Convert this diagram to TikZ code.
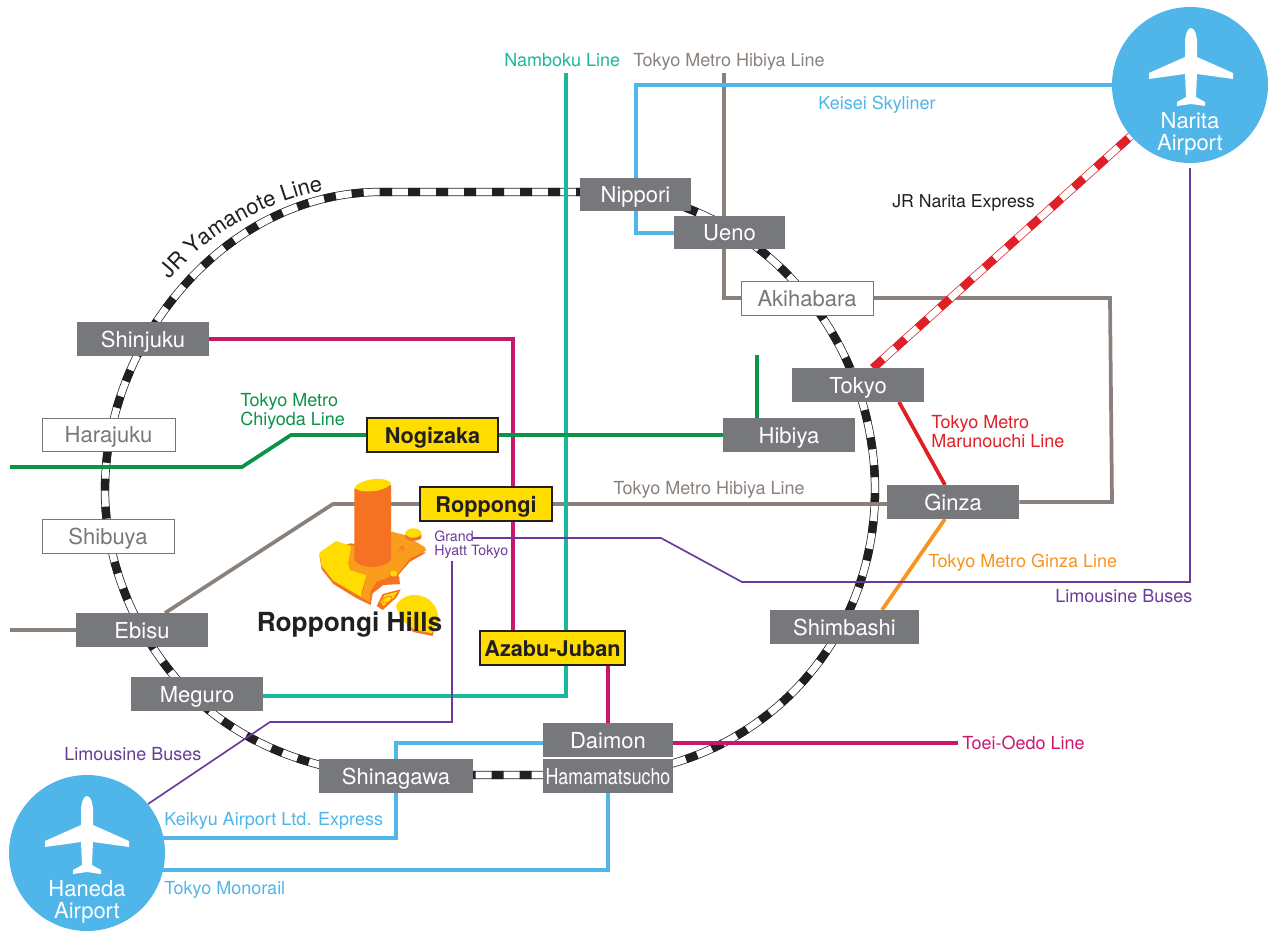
\documentclass[tikz,border=0pt]{standalone}
\usepackage{fontspec}
\setmainfont{TeX Gyre Heros}
\usetikzlibrary{decorations.text}
\pgfdeclarelayer{bg}
\pgfsetlayers{bg,main}
\definecolor{gbox}{HTML}{77787B}
\definecolor{gline}{HTML}{8B817C}
\definecolor{teal}{HTML}{1AB89A}
\definecolor{crim}{HTML}{C9186C}
\definecolor{grn}{HTML}{0A9448}
\definecolor{sky}{HTML}{50B5E8}
\definecolor{purp}{HTML}{6A3A9A}
\definecolor{yel}{HTML}{FFDD00}
\definecolor{redl}{HTML}{E01F26}
\definecolor{orgl}{HTML}{F7941D}
\definecolor{orgd}{HTML}{F47221}
\definecolor{orgm}{HTML}{F99D1C}
\definecolor{ink}{HTML}{231F20}
\newcommand{\fsize}[1]{\fontsize{\dimexpr #1pt*3/4\relax}{\dimexpr #1pt*3/4\relax}\selectfont}
\newcommand{\fskip}[2]{\fontsize{\dimexpr #1pt*3/4\relax}{\dimexpr #2pt*3/4\relax}\selectfont}
\newcommand{\yamfont}{\fsize{22}\color{ink}}
\tikzset{
  stationbox/.style n args={2}{rectangle,inner sep=0pt,minimum width=#1*.75pt,minimum height=#2*.75pt,font=\fsize{22},text height=15pt,text depth=3pt},
  grayst/.style={fill=gbox,text=white},
  whitest/.style={fill=white,draw=gbox,line width=.75pt,text=gbox},
  yellowst/.style={fill=yel,draw=ink,line width=.9pt,text=ink,font=\bfseries\fsize{21.7}},
  metro/.style={line width=2.8pt,line join=miter},
  thinbus/.style={purp,line width=1.25pt},
  lbl/.style={anchor=west,inner sep=0pt,font=\fsize{18},text height=12pt,text depth=3pt},
  lblm/.style={anchor=west,inner sep=0pt,font=\fskip{18}{19},align=left},
  apt/.style={circle,fill=sky,inner sep=0pt,minimum size=117pt},
  apttext/.style={text=white,inner sep=0pt,align=center,font=\fskip{22}{22}},
  plane/.style={fill=white,draw=none},
}
\newcommand{\planeat}[1]{%
  \fill[plane,shift={#1}] (0,0) .. controls (4,0) and (6,8) .. (6,14) -- (6,29)
    -- (42,45) -- (42,51) -- (6,46) -- (5,69) -- (14,74) -- (14,78) -- (0,76)
    -- (-14,78) -- (-14,74) -- (-5,69) -- (-6,46) -- (-42,51) -- (-42,45) -- (-6,29)
    -- (-6,14) .. controls (-6,8) and (-4,0) .. (0,0) -- cycle;}
\newcommand{\stn}[7]{\node[stationbox={#5}{#6},#7] (#1) at (#2,#3) {#4};}
\begin{document}
\begin{tikzpicture}[x=.75pt,y=-.75pt]
\useasboundingbox (0,0) rectangle (1268,931);
% named free ends and bend points
\coordinate (nambokuTop) at (566,73);
\coordinate (nambokuBend) at (566,696);
\coordinate (hibiyaTop) at (724,73);
\coordinate (hibiyaBend) at (724,298);
\coordinate (hibiyaStub) at (757,355);
\coordinate (chiyodaW) at (10,467);
\coordinate (chiyodaA) at (242,467);
\coordinate (chiyodaB) at (291,435);
\coordinate (ebisuW) at (10,630);
\coordinate (ebisuTop) at (165,613);
\coordinate (hibiyaA) at (333,504);
\coordinate (hibiyaNE) at (1110,298);
\coordinate (hibiyaSE) at (1112,502);
\coordinate (keiseiA) at (636,85);
\coordinate (keiseiB) at (636,233);
\coordinate (oedoE) at (958,743);
\coordinate (shinjukuX) at (513,339);
\coordinate (azabuX) at (513,631);
\coordinate (daimonL) at (396,743);
\coordinate (keikyuB) at (396,838);
\coordinate (keikyuW) at (160,838);
\coordinate (monoW) at (160,870);
\coordinate (monoB) at (608,870);
\coordinate (limoN) at (1190,168);
\coordinate (limoA) at (1190,582);
\coordinate (limoB) at (742,582);
\coordinate (limoC) at (661,538);
\coordinate (hyattE) at (472,538);
\coordinate (hyattS) at (452,561);
\coordinate (limoD) at (452,722);
\coordinate (limoE) at (270,722);
\coordinate (limoH) at (148,804);
\coordinate (marA) at (899,402);
\coordinate (marB) at (945,485);
\coordinate (ginA) at (945,519);
\coordinate (ginB) at (882,610);
\coordinate (nexA) at (873,368);
\coordinate (nexB) at (1132,135);
% stations
\stn{nippori}{635.5}{194.5}{Nippori}{111}{33}{grayst}
\stn{ueno}{729.5}{232.5}{Ueno}{111}{33}{grayst}
\stn{akihabara}{807}{298}{Akihabara}{132}{34}{whitest}
\stn{tokyo}{858}{385}{Tokyo}{132}{34}{grayst}
\stn{hibiya}{789}{435}{Hibiya}{132}{34}{grayst}
\stn{ginza}{953}{502}{Ginza}{132}{34}{grayst}
\stn{shimbashi}{844.5}{627}{Shimbashi}{149}{34}{grayst}
\stn{daimon}{608}{740}{Daimon}{130}{34}{grayst}
\stn{hamamatsucho}{608}{776}{\addfontfeature{FakeStretch=.81}Hamamatsucho}{130}{34}{grayst}
\stn{shinagawa}{396}{776}{Shinagawa}{154}{34}{grayst}
\stn{azabu}{552.5}{648}{Azabu-Juban}{145}{34}{yellowst}
\stn{roppongi}{486}{504}{Roppongi}{132}{34}{yellowst}
\stn{nogizaka}{432.5}{435}{Nogizaka}{131}{34}{yellowst}
\stn{shinjuku}{143}{339}{Shinjuku}{132}{34}{grayst}
\stn{harajuku}{108.5}{434.5}{Harajuku}{133}{33}{whitest}
\stn{shibuya}{108}{536}{Shibuya}{132}{34}{whitest}
\stn{ebisu}{142}{630}{Ebisu}{132}{34}{grayst}
\stn{meguro}{197}{694}{Meguro}{132}{34}{grayst}
% background: ring and lines
\begin{pgfonlayer}{bg}
\def\ringpath{(380,192) -- (600,192) .. controls (745,192) and (875,325) .. (875,490)
  .. controls (875,650) and (750,775) .. (590,775) -- (400,775)
  .. controls (325,775) and (255,749) .. (205,707)
  .. controls (160,670) and (105,590) .. (105,490)
  .. controls (105,338) and (228,192) .. (380,192) -- cycle}
\draw[ink,line width=6.2pt] \ringpath;
\draw[white,line width=5.1pt] \ringpath;
\draw[ink,line width=6.2pt,dash pattern=on 9pt off 12pt] \ringpath;
\draw[metro,gline] (hibiyaTop) -- (hibiyaBend) -- (akihabara.west);
\draw[metro,gline] (akihabara.east) -- (hibiyaNE) -- (hibiyaSE) -- (ginza.east);
\draw[metro,gline] (ginza.west |- roppongi.east) -- (roppongi.east);
\draw[metro,gline] (roppongi.west) -- (hibiyaA) -- (ebisuTop);
\draw[metro,gline] (ebisu.west) -- (ebisuW);
\draw[metro,crim] (shinjuku.east) -- (shinjukuX) -- (azabuX);
\draw[metro,crim] (azabu.south -| daimon.north) -- (daimon.north);
\draw[metro,crim] (daimon.east |- oedoE) -- (oedoE);
\draw[metro,teal] (nambokuTop) -- (nambokuBend) -- (meguro.east |- nambokuBend);
\draw[metro,grn] (chiyodaW) -- (chiyodaA) -- (chiyodaB) -- (nogizaka.west);
\draw[metro,grn] (nogizaka.east) -- (hibiya.west);
\draw[metro,grn] (hibiya.north -| hibiyaStub) -- (hibiyaStub);
\draw[metro,redl] (marA) -- (marB);
\draw[metro,orgl] (ginA) -- (ginB);
\draw[metro,sky] (1180,85) -- (keiseiA) -- (keiseiB) -- (ueno.west |- keiseiB);
\draw[metro,sky] (keikyuW) -- (keikyuB) -- (daimonL) -- (daimon.west |- daimonL);
\draw[metro,sky] (monoW) -- (monoB) -- (hamamatsucho.south -| monoB);
\draw[thinbus] (limoN) -- (limoA) -- (limoB) -- (limoC) -- (hyattE);
\draw[thinbus] (hyattS) -- (limoD) -- (limoE) -- (limoH);
\draw[redl,line width=6.2pt] (nexA) -- (nexB);
\draw[white,line width=5.1pt] (nexA) -- (nexB);
\draw[redl,line width=6.2pt,dash pattern=on 10pt off 12.5pt] (nexA) -- (nexB);
\end{pgfonlayer}
% airports
\node[apt] (narita) at (1190,85) {};
\node[apt] (haneda) at (87,853) {};
\planeat{(1191,28)}
\planeat{(87,796)}
\node[apttext] (naritaT) at (1190,134) {Narita\\Airport};
\node[apttext] (hanedaT) at (87,901.5) {Haneda\\Airport};
% Roppongi Hills
\begin{scope}[shift={(250,460)},x=.25pt,y=-.25pt]
  \fill[orgd] (208,285) -- (215,328) -- (250,372) -- (320,415) -- (362,435) -- (368,400) -- (400,375) -- (450,372) -- (445,345) -- (480,305) -- (528,278) -- (300,250) -- cycle;
  \fill[yel] (208,278) -- (258,243) -- (305,258) -- (295,310) -- (300,330) -- (350,345) -- (335,395) -- (335,412) -- (250,362) -- (215,318) -- cycle;
  \fill[orgm] (305,258) -- (425,215) -- (465,225) -- (490,240) -- (525,262) -- (528,272) -- (480,295) -- (445,340) -- (420,350) -- (380,365) -- (362,392) -- (360,428) -- (335,412) -- (350,345) -- (300,330) -- (295,310) -- cycle;
  \fill[orgd] (313,85) -- (423,75) -- (423,300) .. controls (410,325) and (330,330) .. (313,300) -- cycle;
  \fill[yel] (313,85) .. controls (320,60) and (400,45) .. (423,68) .. controls (420,90) and (345,105) .. (313,85) -- cycle;
  \fill[orgd] (466,222) -- (514,222) -- (514,235) .. controls (505,245) and (475,245) .. (466,235) -- cycle;
  \fill[yel] (490,219) ellipse [x radius=24,y radius=14];
  \fill[orgd] (418,342) -- (448,350) -- (448,372) -- (420,372) -- cycle;
  \fill[yel] (431,341) ellipse [x radius=11,y radius=9];
  \fill[orgd] (380,438) -- (398,402) -- (452,388) -- (440,412) -- (398,450) -- cycle;
  \fill[yel] (392,425) -- (404,405) -- (442,395) -- (432,412) -- (400,438) -- cycle;
  \draw[orgd,line width=.5pt] (395,420) .. controls (410,405) and (430,405) .. (425,418) .. controls (418,430) and (400,435) .. (395,420);
  \fill[orgd] (470,495) -- (490,516) -- (548,528) -- (552,510) -- (500,480) -- cycle;
  \fill[yel] (438,438) .. controls (450,410) and (490,395) .. (525,412) .. controls (555,425) and (570,460) .. (562,490) -- (545,520) -- (492,508) -- (452,478) -- cycle;
  \draw[orgd,line width=.5pt] (446,272) -- (456,258) -- (466,272) (456,258) -- (456,275);
\end{scope}
\node[inner sep=0pt,text=ink,font=\bfseries\fsize{26.3},text height=15pt,text depth=4pt] (hills) at (349.5,624.5) {Roppongi Hills};
% labels
\node[lbl,text=teal] (lNamboku) at (504,61) {Namboku Line};
\node[lbl,text=gline] (lHibiyaN) at (633,61) {Tokyo Metro Hibiya Line};
\node[lbl,text=sky] (lKeisei) at (818,103) {Keisei Skyliner};
\node[lbl,text=ink,font=\fsize{17.7}] (lNex) at (892,201) {JR Narita Express};
\node[lblm,text=redl] (lMaru) at (931,431.5) {Tokyo Metro\\Marunouchi Line};
\node[lblm,text=grn] (lChiyoda) at (240,411.5) {Tokyo Metro\\Chiyoda Line};
\node[lbl,text=gline] (lHibiyaS) at (613,488) {Tokyo Metro Hibiya Line};
\node[lbl,text=orgl] (lGinza) at (928,561) {Tokyo Metro Ginza Line};
\node[lbl,text=purp] (lLimoN) at (1055,596) {Limousine Buses};
\node[lbl,text=purp] (lLimoH) at (64,754) {Limousine Buses};
\node[lbl,text=crim] (lOedo) at (962,743) {Toei-Oedo Line};
\node[lbl,text=sky] (lKeikyu) at (164,819) {Keikyu Airport Ltd. Express};
\node[lbl,text=sky] (lMono) at (164,888) {Tokyo Monorail};
\node[lblm,text=purp,font=\fskip{14.2}{14}] (lHyatt) at (434,544.5) {Grand\\Hyatt Tokyo};
\path[decorate,decoration={text along path,text align={left},text={|\yamfont|JR Yamanote Line}}]
  (170,280) .. controls (202,241) and (252,206) .. (321,191);
\end{tikzpicture}
\end{document}
